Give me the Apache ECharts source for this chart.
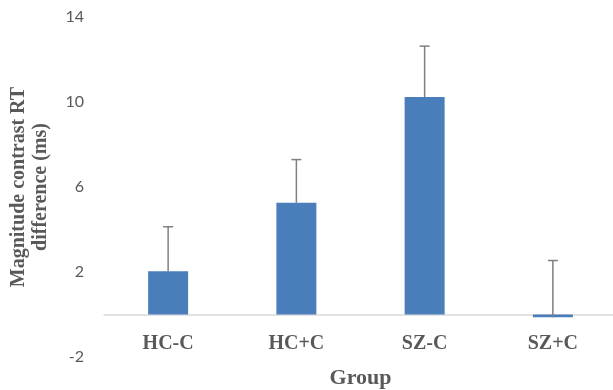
<!DOCTYPE html>
<html><head><meta charset="utf-8">
<script src="https://cdn.jsdelivr.net/npm/echarts@6/dist/echarts.min.js"></script>
<style>html,body{margin:0;padding:0;background:#fff}#c{width:613px;height:390px}</style>
</head><body><div id="c"></div>
<script>
var categories = ['HC-C', 'HC+C', 'SZ-C', 'SZ+C'];
var means = [2.04, 5.26, 10.23, -0.13];
var errorTops = [4.13, 7.29, 12.63, 2.54];
var yTicks = [-2, 2, 6, 10, 14];

var chart = echarts.init(document.getElementById('c'));
var errData = categories.map(function (c, i) { return [i, means[i], errorTops[i]]; });
chart.setOption({
  animation: false,
  grid: { left: 104, top: 17, width: 513, height: 340, containLabel: false, outerBoundsMode: 'none' },
  xAxis: {
    type: 'category', data: categories,
    axisLine: { onZero: true, lineStyle: { color: '#d9d9d9', width: 1.5 } },
    axisTick: { show: false },
    axisLabel: { color: '#595959', fontFamily: 'Liberation Serif', fontWeight: 'bold', fontSize: 20, margin: -23 },
    name: 'Group', nameLocation: 'middle', nameGap: 10,
    nameTextStyle: { color: '#595959', fontFamily: 'Liberation Serif', fontWeight: 'bold', fontSize: 22 }
  },
  yAxis: {
    type: 'value', min: yTicks[0], max: yTicks[yTicks.length - 1], interval: 4,
    axisLine: { show: false }, axisTick: { show: false }, splitLine: { show: false },
    axisLabel: { color: '#595959', fontFamily: 'Lato', fontSize: 16, margin: 20 },
    name: 'Magnitude contrast RT\ndifference (ms)', nameLocation: 'middle', nameGap: 52,
    nameTextStyle: { color: '#595959', fontFamily: 'Liberation Serif', fontWeight: 'bold', fontSize: 20, lineHeight: 22 }
  },
  series: [
    { type: 'bar', data: means, barWidth: 40, itemStyle: { color: '#4a7ebb' } },
    {
      type: 'custom', data: errData, z: 5,
      renderItem: function (params, api) {
        var x = api.value(0);
        var p0 = api.coord([x, api.value(1)]);
        var p1 = api.coord([x, api.value(2)]);
        var st = { stroke: '#7f7f7f', lineWidth: 1.5 };
        return { type: 'group', children: [
          { type: 'line', shape: { x1: p0[0], y1: p0[1], x2: p1[0], y2: p1[1] }, style: st },
          { type: 'line', shape: { x1: p1[0] - 5, y1: p1[1], x2: p1[0] + 5, y2: p1[1] }, style: st }
        ]};
      }
    }
  ]
});
</script></body></html>
